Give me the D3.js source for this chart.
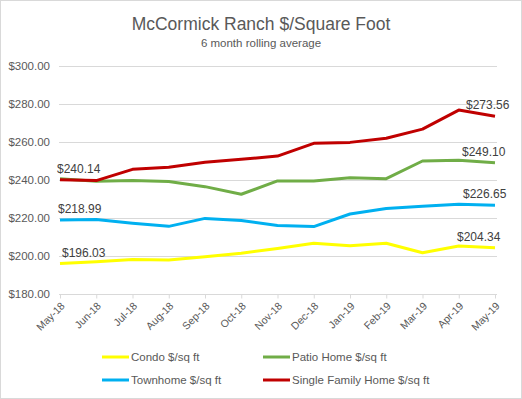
<!DOCTYPE html>
<html>
<head>
<meta charset="utf-8">
<script src="https://cdn.jsdelivr.net/npm/d3@7"></script>
<style>
  body { margin: 0; background: #fff; }
  svg { font-family: "Liberation Sans", Arial, sans-serif; }
</style>
</head>
<body>
<div id="chart-area"></div>
<script>
// chart data
const months = ["May-18","Jun-18","Jul-18","Aug-18","Sep-18","Oct-18","Nov-18","Dec-18","Jan-19","Feb-19","Mar-19","Apr-19","May-19"]
const condo = [196.03, 197.0, 198.2, 197.9, 199.6, 201.4, 204.0, 206.7, 205.4, 206.7, 201.7, 205.3, 204.34]
const patio = [240.6, 239.4, 239.7, 239.2, 236.5, 232.5, 239.5, 239.5, 241.2, 240.7, 250.0, 250.4, 249.10]
const townhome = [218.99, 219.2, 217.2, 215.6, 219.8, 218.7, 216.1, 215.5, 222.1, 225.0, 226.2, 227.2, 226.65]
const singleFamily = [240.14, 239.7, 245.6, 246.7, 249.3, 250.9, 252.6, 259.3, 259.8, 262.0, 266.8, 276.8, 273.56]
const yTicks = [180, 200, 220, 240, 260, 280, 300]

const series = [
  {name: "Condo $/sq ft", values: condo, color: "#ffff00", firstDx: 2, lastDx: -38, showFirst: true},
  {name: "Patio Home $/sq ft", values: patio, color: "#70ad47", firstDx: 0, lastDx: -33, showFirst: false},
  {name: "Townhome $/sq ft", values: townhome, color: "#00b0f0", firstDx: -2, lastDx: -32, showFirst: true},
  {name: "Single Family Home $/sq ft", values: singleFamily, color: "#c00000", firstDx: -3, lastDx: -29, showFirst: true}
]

const W = 522, H = 399
const MARGIN = {LEFT: 60, RIGHT: 27, TOP: 66, BOTTOM: 105}

const svg = d3.select("#chart-area").append("svg")
  .attr("width", W)
  .attr("height", H)

svg.append("rect")
  .attr("x", 0.5).attr("y", 0.5)
  .attr("width", W - 1).attr("height", H - 1)
  .attr("fill", "#fff")
  .attr("stroke", "#d9d9d9")

svg.append("text")
  .attr("x", 261).attr("y", 30)
  .attr("text-anchor", "middle")
  .attr("font-size", 17.5)
  .attr("fill", "#595959")
  .text("McCormick Ranch $/Square Foot")

svg.append("text")
  .attr("x", 261).attr("y", 47)
  .attr("text-anchor", "middle")
  .attr("font-size", 11.5)
  .attr("fill", "#595959")
  .text("6 month rolling average")

const x = d3.scalePoint()
  .domain(months)
  .range([MARGIN.LEFT, W - MARGIN.RIGHT])

const y = d3.scaleLinear()
  .domain([180, 300])
  .range([H - MARGIN.BOTTOM, MARGIN.TOP])

// gridlines
svg.append("g")
  .selectAll("line")
  .data(yTicks.slice(1))
  .enter().append("line")
    .attr("x1", MARGIN.LEFT - 1)
    .attr("x2", W - MARGIN.RIGHT + 2)
    .attr("y1", d => Math.round(y(d)) + 0.5)
    .attr("y2", d => Math.round(y(d)) + 0.5)
    .attr("stroke", "#d9d9d9")

// y axis labels
const yAxisCall = d3.axisLeft(y)
  .tickValues(yTicks)
  .tickSize(0)
  .tickPadding(10)
  .tickFormat(d => "$" + d3.format(".2f")(d))
const yAxis = svg.append("g")
  .attr("transform", `translate(${MARGIN.LEFT},0)`)
  .call(yAxisCall)
yAxis.select(".domain").remove()
yAxis.selectAll("text")
  .attr("font-size", 11.5)
  .attr("font-family", "Liberation Sans, Arial, sans-serif")
  .attr("fill", "#595959")

// x axis
const xAxisCall = d3.axisBottom(x).tickSize(4).tickSizeOuter(0)
const xAxis = svg.append("g")
  .attr("transform", `translate(0,${Math.round(y(180)) + 0.5})`)
  .call(xAxisCall)
xAxis.select(".domain")
  .attr("d", `M${MARGIN.LEFT - 1},0H${W - MARGIN.RIGHT + 2}`)
  .attr("stroke", "#d9d9d9")
xAxis.selectAll(".tick line").attr("stroke", "#d9d9d9")
xAxis.selectAll("text")
  .attr("font-size", 10.5)
  .attr("font-family", "Liberation Sans, Arial, sans-serif")
  .attr("fill", "#595959")
  .attr("text-anchor", "end")
  .attr("x", 0)
  .attr("y", 0)
  .attr("dy", 0)
  .attr("transform", "translate(5,12) rotate(-45)")

// lines
const line = d3.line()
  .x((d, i) => x(months[i]))
  .y(d => y(d))

svg.append("g")
  .selectAll("path")
  .data(series)
  .enter().append("path")
    .attr("d", d => line(d.values))
    .attr("fill", "none")
    .attr("stroke", d => d.color)
    .attr("stroke-width", 3)
    .attr("stroke-linejoin", "round")

// first/last value labels
const labels = []
series.forEach(s => {
  if (s.showFirst) labels.push({v: s.values[0], i: 0, dx: s.firstDx})
  labels.push({v: s.values[s.values.length - 1], i: months.length - 1, dx: s.lastDx})
})
svg.append("g")
  .selectAll("text")
  .data(labels)
  .enter().append("text")
    .attr("x", d => x(months[d.i]) + d.dx)
    .attr("y", d => y(d.v) - 7)
    .attr("font-size", 12)
    .attr("fill", "#404040")
    .text(d => "$" + d3.format(".2f")(d.v))

// legend
const legendPos = [[102, 357], [263, 357], [102, 380], [263, 380]]
const legend = svg.append("g")
  .selectAll("g")
  .data(series)
  .enter().append("g")
    .attr("transform", (d, i) => `translate(${legendPos[i][0]},${legendPos[i][1]})`)
legend.append("line")
  .attr("x1", 0).attr("x2", 27)
  .attr("stroke", d => d.color)
  .attr("stroke-width", 3)
legend.append("text")
  .attr("x", 29)
  .attr("dy", "0.35em")
  .attr("font-size", 11.5)
  .attr("fill", "#595959")
  .text(d => d.name)
</script>
</body>
</html>
